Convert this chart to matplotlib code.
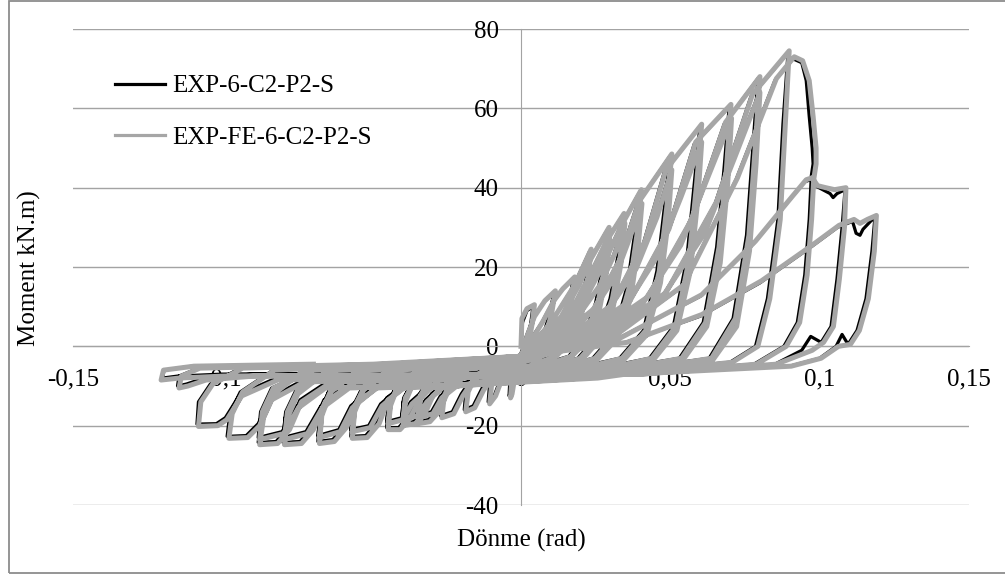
import matplotlib
matplotlib.use("Agg")
import matplotlib.pyplot as plt
from matplotlib.patches import Rectangle

plt.rcParams['font.family'] = ['Liberation Serif', 'DejaVu Serif']

# Axis ticks and labels
x_ticks = [-0.15, -0.10, -0.05, 0.0, 0.05, 0.10, 0.15]
x_tick_labels = ["-0,15", "-0,1", "-0,05", "0", "0,05", "0,1", "0,15"]
y_ticks = [-40, -20, 0, 20, 40, 60, 80]
y_tick_labels = ["-40", "-20", "0", "20", "40", "60", "80"]

series_names = ["EXP-6-C2-P2-S", "EXP-FE-6-C2-P2-S"]

# Experimental moment-rotation history (rotation rad, moment kN.m), cycle by cycle
exp_loop = [
    (0.0, 0.0),
    # cycle 1
    (0.0005, 6), (0.002, 9), (0.004, 10), (0.0033, 6), (0.0025, 2.5), (0.0012, 0), (-0.001, -3),
    (-0.0025, -7), (-0.0035, -11.5), (-0.004, -12.5), (-0.0037, -8), (-0.0025, -4.5), (0, -2),
    # cycle 2
    (0.0015, 2), (0.004, 7), (0.0075, 11), (0.011, 13.5), (0.0095, 8), (0.0075, 3), (0.005, 0), (0.001, -3),
    (-0.004, -5), (-0.007, -8.5), (-0.009, -12.5), (-0.011, -14), (-0.0105, -9.5), (-0.0085, -6), (-0.004, -3.5), (0, -2),
    # cycle 3
    (0.003, 1.5), (0.007, 6), (0.0105, 11), (0.0135, 14), (0.0175, 17), (0.016, 11), (0.0135, 4), (0.0105, 0), (0.005, -3),
    (-0.003, -4.5), (-0.009, -6.5), (-0.013, -10.5), (-0.016, -15), (-0.019, -16), (-0.0185, -11.5), (-0.016, -7.5), (-0.01, -4.5), (0, -2.5),
    # cycle 4
    (0.004, 1), (0.01, 6), (0.015, 12), (0.0175, 15), (0.023, 24), (0.0215, 16), (0.0195, 8), (0.016, 1.5), (0.011, -2.5), (0.002, -4.5),
    (-0.008, -5), (-0.016, -7.5), (-0.02, -12), (-0.023, -16.5), (-0.027, -17.5), (-0.0265, -12.5), (-0.024, -8.5), (-0.017, -5), (-0.008, -3.5), (0, -2.5),
    # cycle 5
    (0.005, 1), (0.013, 7), (0.019, 15), (0.0225, 21), (0.029, 29.5), (0.0275, 21), (0.025, 11), (0.021, 2.5), (0.016, -2.5), (0.005, -5),
    (-0.008, -5.5), (-0.02, -7.5), (-0.025, -11), (-0.028, -16), (-0.031, -18.5), (-0.035, -19), (-0.0345, -13.5), (-0.032, -9), (-0.025, -5.5), (-0.012, -4), (0, -2.5),
    # cycle 5, repeat
    (0.008, 1), (0.016, 7), (0.022, 14), (0.026, 20), (0.0292, 26.5), (0.0278, 18), (0.0255, 9), (0.0215, 1.5), (0.015, -3.5), (0.004, -6),
    (-0.01, -8), (-0.022, -9.5), (-0.027, -12.5), (-0.03, -16.5), (-0.035, -17.5), (-0.0343, -12.5), (-0.031, -8), (-0.022, -6), (-0.01, -5), (0, -3.5),
    # cycle 6
    (0.007, 1), (0.016, 8), (0.023, 18), (0.0285, 26.5), (0.034, 33), (0.0325, 23), (0.0298, 12), (0.0255, 2.5), (0.019, -3), (0.007, -5.5),
    (-0.01, -6), (-0.024, -8), (-0.03, -12), (-0.033, -17), (-0.036, -19), (-0.040, -19.5), (-0.0395, -14), (-0.037, -9.5), (-0.029, -5.5), (-0.014, -4), (0, -2.5),
    # cycle 6, repeat
    (0.01, 1), (0.019, 7.5), (0.026, 15), (0.031, 23), (0.0343, 30.5), (0.0328, 21), (0.0302, 10), (0.026, 2), (0.019, -4), (0.006, -7),
    (-0.012, -8.5), (-0.027, -10), (-0.032, -13.5), (-0.035, -17), (-0.040, -18), (-0.0393, -13), (-0.036, -8.5), (-0.027, -6), (-0.012, -5), (0, -3.5),
    # cycle 7
    (0.008, 1), (0.019, 8.5), (0.027, 20), (0.0335, 30.5), (0.0398, 39), (0.038, 28), (0.0355, 15), (0.031, 3), (0.024, -3), (0.01, -6),
    (-0.01, -6.5), (-0.028, -8), (-0.034, -12.5), (-0.038, -18), (-0.041, -20.5), (-0.045, -20.5), (-0.0445, -15), (-0.042, -10), (-0.034, -5.5), (-0.016, -4), (0, -2.5),
    # cycle 7, repeat
    (0.012, 1), (0.023, 8), (0.031, 17), (0.036, 27), (0.04, 35.5), (0.0385, 25), (0.036, 12), (0.0315, 2), (0.024, -4), (0.008, -7.5),
    (-0.012, -9), (-0.031, -10), (-0.037, -14), (-0.04, -18), (-0.045, -19), (-0.0443, -14), (-0.041, -9), (-0.032, -6), (-0.014, -5), (0, -3.5),
    # cycle 8
    (0.01, 1), (0.024, 9), (0.033, 22), (0.039, 36), (0.0499, 48), (0.048, 35), (0.0455, 19), (0.041, 4), (0.033, -3), (0.015, -6),
    (-0.01, -6.5), (-0.037, -8.5), (-0.045, -13), (-0.048, -19), (-0.052, -22.5), (-0.057, -22.7), (-0.0565, -16.5), (-0.0535, -11), (-0.045, -6), (-0.022, -4.5), (0, -2.5),
    # cycle 8, repeat
    (0.015, 1), (0.028, 8), (0.038, 19), (0.045, 32), (0.05, 44), (0.0485, 31), (0.046, 16), (0.0415, 3), (0.033, -4), (0.012, -7.5),
    (-0.012, -9), (-0.04, -10), (-0.047, -14.5), (-0.051, -20), (-0.057, -21), (-0.0562, -15), (-0.0525, -9.5), (-0.042, -6), (-0.02, -5), (0, -3.5),
    # cycle 9
    (0.013, 1), (0.03, 10), (0.041, 26), (0.048, 44), (0.0599, 55.4), (0.058, 41), (0.0555, 22), (0.051, 5), (0.043, -3), (0.02, -6.5),
    (-0.01, -7), (-0.046, -8.5), (-0.055, -13.5), (-0.059, -20), (-0.063, -23.5), (-0.068, -24), (-0.0675, -17.5), (-0.0645, -11.5), (-0.055, -6), (-0.028, -4.5), (0, -2.5),
    # cycle 9, repeat
    (0.018, 1), (0.034, 9), (0.045, 22), (0.053, 37), (0.06, 51), (0.0585, 37), (0.056, 19), (0.0515, 4), (0.043, -4), (0.016, -7.5),
    (-0.012, -9), (-0.049, -10), (-0.057, -15), (-0.061, -21), (-0.068, -22.5), (-0.0672, -16), (-0.0635, -10), (-0.052, -6), (-0.025, -5), (0, -3.5),
    # cycle 10
    (0.016, 1), (0.036, 11), (0.049, 29), (0.058, 51), (0.0697, 60.4), (0.068, 45), (0.0655, 25), (0.061, 6), (0.053, -3), (0.025, -6.5),
    (-0.01, -7), (-0.056, -8.5), (-0.066, -13.5), (-0.07, -20.5), (-0.074, -24), (-0.0797, -24.2), (-0.079, -18), (-0.0755, -12), (-0.065, -6), (-0.032, -4.5), (0, -2.5),
    # cycle 10, repeat
    (0.022, 1), (0.04, 10), (0.053, 25), (0.062, 42), (0.07, 57), (0.0685, 41), (0.066, 21), (0.0615, 5), (0.053, -4), (0.02, -7.5),
    (-0.012, -9), (-0.058, -10), (-0.067, -15), (-0.072, -21.5), (-0.0797, -23), (-0.0788, -16.5), (-0.075, -10.5), (-0.062, -6), (-0.03, -5), (0, -3.5),
    # cycle 11
    (0.02, 1), (0.042, 12), (0.057, 32), (0.068, 56), (0.0793, 67.5), (0.0776, 50), (0.0755, 28), (0.071, 7), (0.063, -3), (0.03, -6.5),
    (-0.01, -7), (-0.064, -8.5), (-0.074, -13.5), (-0.078, -20.5), (-0.082, -24), (-0.088, -24.2), (-0.087, -18), (-0.0835, -12), (-0.073, -6), (-0.036, -4.5), (0, -2.5),
    # cycle 11, repeat
    (0.026, 1), (0.046, 11), (0.061, 28), (0.071, 47), (0.0795, 63.5), (0.078, 46), (0.0758, 24), (0.0715, 5), (0.063, -4), (0.025, -7.5),
    (-0.012, -9), (-0.066, -10), (-0.075, -15), (-0.08, -21.5), (-0.088, -23), (-0.0872, -16.5), (-0.0835, -10.5), (-0.07, -6), (-0.034, -5), (0, -3.5),
    # cycle 12
    (0.024, 1), (0.048, 13), (0.065, 36), (0.077, 63), (0.0894, 74), (0.0877, 56), (0.086, 32), (0.0825, 12), (0.0785, 0), (0.07, -4), (0.035, -6.5),
    (-0.01, -7), (-0.073, -8.5), (-0.084, -13), (-0.088, -19.5), (-0.092, -22.5), (-0.0984, -22.7), (-0.0975, -17), (-0.094, -11.5), (-0.083, -6), (-0.04, -4.5), (0, -2.5),
    # cycle 13 (strength loss)
    (0.028, 1), (0.054, 15), (0.072, 42), (0.085, 67), (0.091, 72.5), (0.094, 71.5), (0.0955, 67), (0.0965, 58), (0.0975, 50), (0.0978, 46),
    (0.0972, 43), (0.0965, 32), (0.095, 18), (0.0925, 6), (0.088, 0), (0.078, -4.5), (0.04, -6.5),
    (-0.01, -7), (-0.082, -8), (-0.094, -12), (-0.099, -18), (-0.102, -19.5), (-0.1085, -19.6), (-0.108, -14), (-0.104, -9.5), (-0.094, -5.5), (-0.045, -4.5), (0, -2.5),
    # cycle 14
    (0.03, 1), (0.06, 12.6), (0.078, 26), (0.09, 37), (0.095, 41.5), (0.097, 42), (0.0985, 40.5), (0.101, 39.5), (0.1035, 38.5), (0.1045, 37.5),
    (0.1058, 38.5), (0.1085, 39.5), (0.1075, 30), (0.1058, 17), (0.1038, 5), (0.1005, 1), (0.097, 2.5), (0.094, -1), (0.085, -4.5), (0.04, -6.5),
    (-0.01, -7), (-0.09, -7), (-0.106, -8), (-0.112, -9.5), (-0.115, -10), (-0.1145, -7.5), (-0.108, -5.5), (-0.05, -4.5), (0, -2.5),
    # cycle 15
    (0.035, 1), (0.06, 7.6), (0.08, 16), (0.097, 25), (0.106, 30), (0.111, 31.5), (0.1122, 28.5), (0.1135, 28), (0.1145, 29.5), (0.117, 31.5),
    (0.1185, 32.5), (0.1175, 24), (0.1155, 12), (0.1125, 4), (0.1095, 0.5), (0.1075, 3), (0.1055, 0), (0.1, -3), (0.09, -5), (0.05, -6),
    (-0.01, -6.5), (-0.1, -7), (-0.115, -7.5), (-0.12, -8), (-0.1195, -6), (-0.11, -5), (-0.07, -4.5),
]

# Finite-element moment-rotation history (rotation rad, moment kN.m)
fe_loop = [
    (0.0, 0.0),
    # cycle 1
    (0.0003, 7), (0.002, 9.5), (0.0045, 10.5), (0.0038, 6), (0.003, 2.5), (0.0018, 0), (-0.0005, -3),
    (-0.002, -7.5), (-0.003, -12), (-0.0035, -13), (-0.003, -8), (-0.002, -4.5), (0.0005, -1.5),
    # cycle 2
    (0.002, 2.5), (0.0045, 7.5), (0.008, 11.5), (0.0115, 14), (0.0102, 8), (0.0082, 3), (0.0058, 0), (0.0015, -3),
    (-0.0035, -5), (-0.0065, -8.5), (-0.0085, -12.5), (-0.0105, -14.5), (-0.0098, -9.5), (-0.0078, -6), (-0.0035, -3.5), (0.0005, -2),
    # cycle 3
    (0.0035, 1.5), (0.0075, 6.5), (0.011, 11.5), (0.014, 14.5), (0.018, 17.5), (0.0168, 11), (0.0143, 4), (0.0113, 0), (0.0058, -3),
    (-0.0025, -4.5), (-0.0085, -7), (-0.0125, -11), (-0.0155, -15.5), (-0.0185, -16.5), (-0.0177, -11.5), (-0.0152, -7.5), (-0.0095, -4.5), (0.0005, -2.5),
    # cycle 4
    (0.0045, 1), (0.0105, 6.5), (0.0155, 12.5), (0.018, 15.5), (0.0235, 24.5), (0.0223, 16), (0.0203, 8), (0.0168, 1.5), (0.0118, -2.5), (0.0025, -5),
    (-0.0075, -5.5), (-0.0155, -8), (-0.0195, -12.5), (-0.0225, -17), (-0.0265, -18), (-0.0257, -12.5), (-0.0232, -8.5), (-0.0165, -5), (-0.0075, -3.5), (0.0005, -2.5),
    # cycle 5
    (0.0055, 1), (0.0135, 7.5), (0.0195, 15.5), (0.023, 21.5), (0.0295, 30), (0.0283, 21), (0.0258, 11), (0.0218, 2.5), (0.0168, -2.5), (0.0055, -5.5),
    (-0.0075, -6), (-0.0195, -8), (-0.0245, -11.5), (-0.0275, -16.5), (-0.0305, -19), (-0.0345, -19.5), (-0.0337, -13.5), (-0.0312, -9), (-0.0245, -5.5), (-0.0115, -4), (0.0005, -2.5),
    # cycle 5, repeat
    (0.0085, 1), (0.0165, 7.5), (0.0225, 14.5), (0.0265, 20.5), (0.0297, 27), (0.0285, 18), (0.0262, 9), (0.0222, 1.5), (0.0157, -3.5), (0.0047, -6.5),
    (-0.0095, -8.5), (-0.0215, -10), (-0.0265, -13), (-0.0295, -17), (-0.0345, -18), (-0.0337, -12.5), (-0.0304, -8), (-0.0215, -6), (-0.0095, -5), (0.0005, -3.5),
    # cycle 6
    (0.0075, 1), (0.0165, 8.5), (0.0235, 18.5), (0.029, 27), (0.0345, 33.5), (0.0333, 23), (0.0306, 12), (0.0263, 2.5), (0.0198, -3), (0.0075, -6),
    (-0.0095, -6.5), (-0.0235, -8.5), (-0.0295, -12.5), (-0.0325, -17.5), (-0.0355, -19.5), (-0.0395, -20), (-0.0387, -14), (-0.0362, -9.5), (-0.0285, -5.5), (-0.0135, -4), (0.0005, -2.5),
    # cycle 6, repeat
    (0.0105, 1), (0.0195, 8), (0.0265, 15.5), (0.0315, 23.5), (0.0348, 31), (0.0335, 21), (0.0309, 10), (0.0267, 2), (0.0197, -4), (0.0067, -7.5),
    (-0.0115, -9), (-0.0265, -10.5), (-0.0315, -14), (-0.0345, -17.5), (-0.0395, -18.5), (-0.0387, -13), (-0.0354, -8.5), (-0.0265, -6), (-0.0115, -5), (0.0005, -3.5),
    # cycle 7
    (0.0085, 1), (0.0195, 9), (0.0275, 20.5), (0.034, 31), (0.0403, 39.5), (0.0388, 28), (0.0363, 15), (0.0318, 3), (0.0248, -3), (0.0105, -6.5),
    (-0.0095, -7), (-0.0275, -8.5), (-0.0335, -13), (-0.0375, -18.5), (-0.0405, -21), (-0.0445, -21), (-0.0437, -15), (-0.0412, -10), (-0.0335, -5.5), (-0.0155, -4), (0.0005, -2.5),
    # cycle 7, repeat
    (0.0125, 1), (0.0235, 8.5), (0.0315, 17.5), (0.0365, 27.5), (0.0405, 36), (0.0392, 25), (0.0367, 12), (0.0322, 2), (0.0247, -4), (0.0087, -8),
    (-0.0115, -9.5), (-0.0305, -10.5), (-0.0365, -14.5), (-0.0395, -18.5), (-0.0445, -19.5), (-0.0437, -14), (-0.0404, -9), (-0.0315, -6), (-0.0135, -5), (0.0005, -3.5),
    # cycle 8
    (0.0105, 1), (0.0245, 9.5), (0.0335, 22.5), (0.0395, 36.5), (0.0505, 48.5), (0.0488, 35), (0.0463, 19), (0.0418, 4), (0.0338, -3), (0.0155, -6.5),
    (-0.0095, -7), (-0.0365, -9), (-0.0445, -13.5), (-0.0475, -19.5), (-0.0515, -23), (-0.0565, -23.2), (-0.0557, -16.5), (-0.0527, -11), (-0.0445, -6), (-0.0215, -4.5), (0.0005, -2.5),
    # cycle 8, repeat
    (0.0155, 1), (0.0285, 8.5), (0.0385, 19.5), (0.0455, 32.5), (0.0505, 44.5), (0.0492, 31), (0.0467, 16), (0.0422, 3), (0.0337, -4), (0.0127, -8),
    (-0.0115, -9.5), (-0.0395, -10.5), (-0.0465, -15), (-0.0505, -20.5), (-0.0565, -21.5), (-0.0556, -15), (-0.0519, -9.5), (-0.0415, -6), (-0.0195, -5), (0.0005, -3.5),
    # cycle 9
    (0.0135, 1), (0.0305, 10.5), (0.0415, 26.5), (0.0485, 44.5), (0.0605, 56), (0.0588, 41), (0.0563, 22), (0.0518, 5), (0.0438, -3), (0.0205, -7),
    (-0.0095, -7.5), (-0.0455, -9), (-0.0545, -14), (-0.0585, -20.5), (-0.0625, -24), (-0.0675, -24.5), (-0.0667, -17.5), (-0.0637, -11.5), (-0.0545, -6), (-0.0275, -4.5), (0.0005, -2.5),
    # cycle 9, repeat
    (0.0185, 1), (0.0345, 9.5), (0.0455, 22.5), (0.0535, 37.5), (0.0605, 51.5), (0.0592, 37), (0.0567, 19), (0.0522, 4), (0.0437, -4), (0.0167, -8),
    (-0.0115, -9.5), (-0.0485, -10.5), (-0.0565, -15.5), (-0.0605, -21.5), (-0.0675, -23), (-0.0666, -16), (-0.0629, -10), (-0.0515, -6), (-0.0245, -5), (0.0005, -3.5),
    # cycle 10
    (0.0165, 1), (0.0365, 11.5), (0.0495, 29.5), (0.0585, 51.5), (0.0703, 61), (0.0688, 45), (0.0663, 25), (0.0618, 6), (0.0538, -3), (0.0255, -7),
    (-0.0095, -7.5), (-0.0555, -9), (-0.0655, -14), (-0.0695, -21), (-0.0735, -24.5), (-0.0792, -24.8), (-0.0782, -18), (-0.0747, -12), (-0.0645, -6), (-0.0315, -4.5), (0.0005, -2.5),
    # cycle 10, repeat
    (0.0225, 1), (0.0405, 10.5), (0.0535, 25.5), (0.0625, 42.5), (0.0705, 57.5), (0.0692, 41), (0.0667, 21), (0.0622, 5), (0.0537, -4), (0.0207, -8),
    (-0.0115, -9.5), (-0.0575, -10.5), (-0.0665, -15.5), (-0.0715, -22), (-0.0792, -23.5), (-0.0782, -16.5), (-0.0744, -10.5), (-0.0615, -6), (-0.0295, -5), (0.0005, -3.5),
    # cycle 11
    (0.0205, 1), (0.0425, 12.5), (0.0575, 32.5), (0.0685, 56.5), (0.08, 68), (0.0784, 50), (0.0763, 28), (0.0718, 7), (0.0638, -3), (0.0305, -7),
    (-0.0095, -7.5), (-0.0635, -9), (-0.0735, -14), (-0.0775, -21), (-0.0815, -24.5), (-0.0875, -24.8), (-0.0862, -18), (-0.0827, -12), (-0.0725, -6), (-0.0355, -4.5), (0.0005, -2.5),
    # cycle 11, repeat
    (0.0265, 1), (0.0465, 11.5), (0.0615, 28.5), (0.0715, 47.5), (0.08, 64), (0.0787, 46), (0.0765, 24), (0.0722, 5), (0.0637, -4), (0.0257, -8),
    (-0.0115, -9.5), (-0.0655, -10.5), (-0.0745, -15.5), (-0.0795, -22), (-0.0875, -23.5), (-0.0866, -16.5), (-0.0829, -10.5), (-0.0695, -6), (-0.0335, -5), (0.0005, -3.5),
    # cycle 12
    (0.0245, 1), (0.0485, 13.5), (0.0655, 36.5), (0.0775, 63.5), (0.0898, 74.5), (0.0885, 56), (0.0868, 32), (0.0833, 12), (0.0793, 0), (0.0708, -4), (0.0355, -7),
    (-0.0095, -7.5), (-0.0725, -9), (-0.0835, -13.5), (-0.0875, -20), (-0.0915, -23), (-0.0978, -23.2), (-0.0967, -17), (-0.0932, -11.5), (-0.0825, -6), (-0.0395, -4.5), (0.0005, -2.5),
    # cycle 13 (strength loss)
    (0.0285, 1), (0.0545, 15.5), (0.0725, 42.5), (0.0855, 67.5), (0.0915, 73), (0.0943, 72), (0.0965, 67), (0.0978, 58), (0.0988, 50), (0.0988, 46),
    (0.098, 42), (0.0973, 32), (0.0958, 18), (0.0933, 6), (0.0888, 0), (0.0788, -4.5), (0.0405, -7),
    (-0.0095, -7.5), (-0.0815, -8.5), (-0.0935, -12.5), (-0.0985, -18.5), (-0.1015, -20), (-0.108, -20.2), (-0.1072, -14), (-0.1032, -9.5), (-0.0932, -5.5), (-0.0445, -4.5), (0.0005, -2.5),
    # cycle 14
    (0.0305, 1), (0.0605, 13), (0.0785, 26.5), (0.0905, 37.5), (0.0955, 42), (0.0975, 42.5), (0.0993, 40.5), (0.102, 40), (0.105, 39.5), (0.1088, 40),
    (0.1083, 30), (0.1066, 17), (0.1046, 5), (0.1013, 1), (0.0975, -1), (0.0855, -4.5), (0.0405, -7),
    (-0.0095, -7.5), (-0.0895, -7.5), (-0.1055, -8.5), (-0.1115, -10), (-0.1145, -10.5), (-0.1137, -7.5), (-0.1075, -5.5), (-0.0495, -4.5), (0.0005, -2.5),
    # cycle 15
    (0.0355, 1), (0.0605, 8), (0.0805, 16.5), (0.0975, 25.5), (0.1065, 30.5), (0.1115, 32), (0.1135, 31), (0.116, 32), (0.119, 33), (0.1183, 24),
    (0.1163, 12), (0.1133, 4), (0.1103, 0.5), (0.1063, 0), (0.1005, -3), (0.0905, -5), (0.0505, -6.5),
    (-0.0095, -7), (-0.0995, -7.5), (-0.1145, -8), (-0.1205, -8.5), (-0.1197, -6), (-0.1095, -5), (-0.0695, -4.5),
]

exp_rot, exp_mom = zip(*exp_loop)
fe_rot, fe_mom = zip(*fe_loop)

W, H = 1005, 576
fig = plt.figure(figsize=(W / 100, H / 100), dpi=100)
ax = fig.add_axes([73 / W, 1 - 505 / H, 896 / W, 476 / H])

grid_c = '#A3A3A3'
exp_line, = ax.plot(exp_rot, exp_mom, color='black', lw=2.3, solid_joinstyle='round',
                    label=series_names[0], zorder=3)
fe_line, = ax.plot(fe_rot, fe_mom, color='#A6A6A6', lw=3.6, solid_joinstyle='round',
                   label=series_names[1], zorder=4)

ax.set_xlim(-0.15, 0.15)
ax.set_ylim(-40, 80)
ax.set_xticks(x_ticks)
ax.set_xticklabels(x_tick_labels)
ax.set_yticks(y_ticks)
ax.set_yticklabels(y_tick_labels)
ax.yaxis.grid(True, color=grid_c, lw=1.0)
ax.set_axisbelow(True)

for side in ('top', 'right'):
    ax.spines[side].set_visible(False)
ax.spines['left'].set_position(('data', 0))
ax.spines['bottom'].set_position(('data', 0))
ax.spines['left'].set_color(grid_c)
ax.spines['bottom'].set_color(grid_c)
ax.spines['left'].set_zorder(1)
ax.spines['bottom'].set_zorder(1)
ax.tick_params(axis='both', length=0, labelsize=18, colors='black')
ax.tick_params(axis='y', pad=16)
ax.tick_params(axis='x', pad=16)

fig.text(29 / W, 1 - 268 / H, "Moment kN.m)", rotation=90, ha='center', va='center', fontsize=18)
fig.text(521 / W, 1 - 540 / H, "Dönme (rad)", ha='center', va='center', fontsize=18)

leg = ax.legend(handles=[exp_line, fe_line], loc='upper left',
                bbox_to_anchor=(115 / W, 1 - 75 / H), bbox_transform=fig.transFigure,
                frameon=False, fontsize=18, handlelength=2.0, handletextpad=0.28,
                labelspacing=1.15, borderpad=0, borderaxespad=0)
for h in leg.get_lines():
    h.set_linewidth(2.3)

fig.patches.append(Rectangle((9 / W, 3 / H), 1.0, 572 / H, transform=fig.transFigure,
                             fill=False, edgecolor='#8C8C8C', lw=1.3))

fig.savefig("out.png", dpi=100)
